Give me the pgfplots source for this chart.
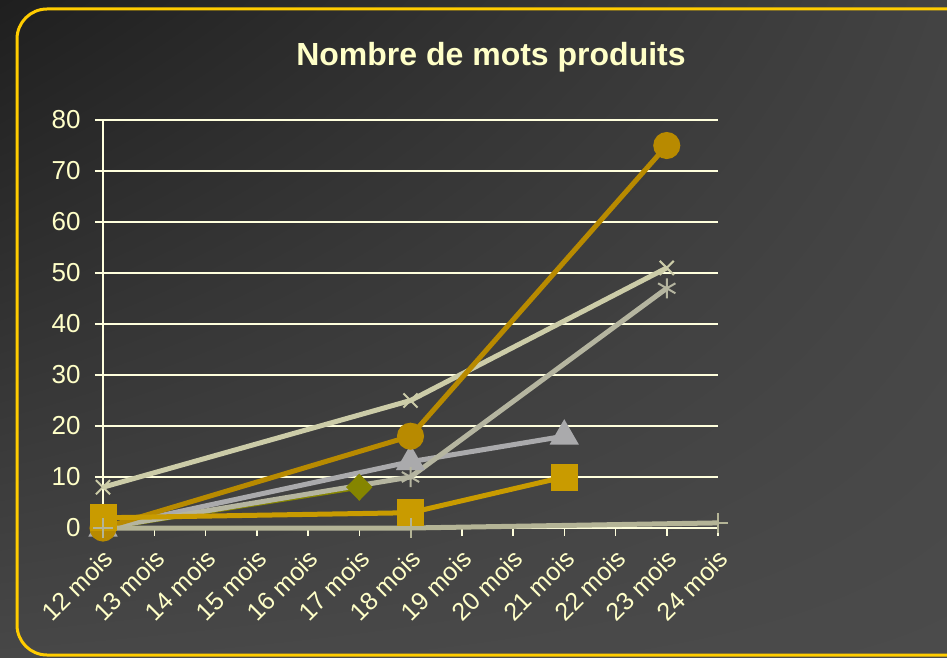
\documentclass[border=0pt]{standalone}
\usepackage{pgfplots}
\pgfplotsset{compat=1.18}
\usetikzlibrary{shadings}
\usepackage{fontspec}
\setmainfont{Liberation Sans}
\definecolor{bgUL}{HTML}{1F1F1F}
\definecolor{bgUR}{HTML}{434343}
\definecolor{bgLL}{HTML}{474747}
\definecolor{bgLR}{HTML}{4B4B4B}
\definecolor{frame}{HTML}{FFCC00}
\definecolor{cream}{HTML}{FFFFDD}
\definecolor{txt}{HTML}{FFFFC8}
\definecolor{cA}{HTML}{858500}
\definecolor{cB}{HTML}{C99B00}
\definecolor{cC}{HTML}{AAAAAC}
\definecolor{cD}{HTML}{CCCCA8}
\definecolor{cE}{HTML}{B5B5A0}
\definecolor{cF}{HTML}{B88A00}
\definecolor{cG}{HTML}{B4B496}
\begin{document}
\begin{tikzpicture}
\useasboundingbox (0,0) rectangle (947pt,657pt);
\clip (0,0) rectangle (947pt,657pt);
\shade[upper left=bgUL, upper right=bgUR, lower left=bgLL, lower right=bgLR] (0,0) rectangle (947pt,657pt);
\draw[frame, line width=3pt, rounded corners=30pt] (17pt,2pt) rectangle (990pt,648pt);
\node[anchor=base, text=txt, font=\bfseries\fontsize{32}{36}\selectfont] at (491pt,591pt) {Nombre de mots produits};
\begin{axis}[
  at={(103pt,129pt)}, anchor=south west,
  scale only axis, width=615pt, height=408pt,
  xmin=0, xmax=12, ymin=0, ymax=80,
  clip=false,
  axis lines*=left,
  axis line style={cream, line width=2pt},
  xtick={0,...,12},
  xticklabels={12 mois,13 mois,14 mois,15 mois,16 mois,17 mois,18 mois,19 mois,20 mois,21 mois,22 mois,23 mois,24 mois},
  ytick={0,10,...,80},
  tick align=outside, major tick length=8pt,
  tick style={cream, line width=1.5pt},
  ymajorgrids, grid style={cream, line width=2pt},
  /pgf/number format/assume math mode=true,
  ticklabel style={text=txt},
  yticklabel style={font=\fontsize{26}{30}\selectfont, xshift=-11pt},
  xticklabel style={font=\fontsize{25}{29}\selectfont, xshift=7pt, yshift=-17pt, rotate=45, anchor=east, inner sep=2pt},
  every axis plot/.append style={line width=5pt},
]
\addplot[cA, mark=diamond*, mark size=10pt, mark options={xscale=1.3}] coordinates {(0,0) (5,8)};
\addplot[cC, mark=triangle*, mark size=12pt] coordinates {(0,0) (6,13) (9,18)};
\addplot[cD, mark=x, mark size=10pt, mark options={line width=2pt}] coordinates {(0,8) (6,25) (11,51)};
\addplot[cE, mark=asterisk, mark size=10pt, mark options={line width=2pt}] coordinates {(0,0) (6,10) (11,47)};
\addplot[cF, mark=*, mark size=11pt] coordinates {(0,0) (6,18) (11,75)};
\addplot[cB, mark=square*, mark size=11pt] coordinates {(0,2) (6,3) (9,10)};
\addplot[cG, mark=+, mark size=10pt, mark options={line width=2pt}] coordinates {(0,0) (6,0) (12,1)};
\end{axis}
\end{tikzpicture}
\end{document}
